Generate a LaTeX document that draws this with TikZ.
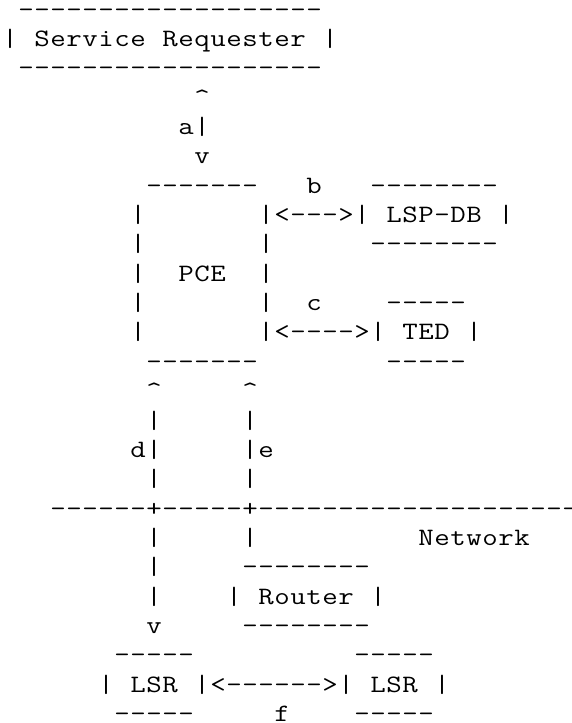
\documentclass[tikz,border=0pt]{standalone}
\usepackage{fontspec}
\usepackage{graphicx}
\newlength\cellw
\setlength\cellw{16pt}
\makeatletter
\def\cells#1{\cells@#1\cells@end}
\def\cells@end{\cells@end@}
\def\cells@{\futurelet\cells@next\cells@check}
\def\cells@check{%
  \ifx\cells@next\cells@end
    \let\cells@do\cells@stop
  \else
    \ifx\cells@next\@sptoken
      \let\cells@do\cells@space
    \else
      \let\cells@do\cells@char
    \fi
  \fi
  \cells@do}
\def\cells@stop\cells@end{}
\expandafter\def\expandafter\cells@space\space{\hbox to\cellw{}\cells@}
\def\cells@char#1{\hbox to\cellw{\hss\scalebox{1.2}[1]{#1}\hss}\cells@}
\makeatother
\tikzset{
  cell/.style={anchor=base west, inner sep=0pt, outer sep=0pt,
    font=\fontsize{25pt}{29.3pt}\selectfont\ttfamily, text=black}
}
\newcommand\placecells[4]{\node[cell] (#1) at ({2+16*#2},{17+29.36*#3}) {\cells{#4}};}
\begin{document}
\begin{tikzpicture}[x=1pt,y=-1pt]
\fill[white] (0,0) rectangle (572,723);
\useasboundingbox (0,0) rectangle (572,723);
\placecells{reqTop}{1}{0}{-------------------}
\placecells{req}{0}{1}{| Service Requester |}
\placecells{reqBot}{1}{2}{-------------------}
\placecells{aUp}{12}{3}{\textasciicircum}
\placecells{aLabel}{11}{4}{a|}
\placecells{aDown}{12}{5}{v}
\placecells{pceTop}{9}{6}{-------}
\placecells{bLabel}{19}{6}{b}
\placecells{lspTop}{23}{6}{--------}
\placecells{pceL1}{8}{7}{|}
\placecells{lsp}{16}{7}{|<--->| LSP-DB |}
\placecells{pceL2}{8}{8}{|}
\placecells{pceR2}{16}{8}{|}
\placecells{lspBot}{23}{8}{--------}
\placecells{pceL3}{8}{9}{|}
\placecells{pce}{11}{9}{PCE}
\placecells{pceR3}{16}{9}{|}
\placecells{pceL4}{8}{10}{|}
\placecells{pceR4}{16}{10}{|}
\placecells{cLabel}{19}{10}{c}
\placecells{tedTop}{24}{10}{-----}
\placecells{pceL5}{8}{11}{|}
\placecells{ted}{16}{11}{|<---->| TED |}
\placecells{pceBot}{9}{12}{-------}
\placecells{tedBot}{24}{12}{-----}
\placecells{dUp}{9}{13}{\textasciicircum}
\placecells{eUp}{15}{13}{\textasciicircum}
\placecells{dA}{9}{14}{|}
\placecells{eA}{15}{14}{|}
\placecells{dLabel}{8}{15}{d|}
\placecells{eLabel}{15}{15}{|e}
\placecells{dB}{9}{16}{|}
\placecells{eB}{15}{16}{|}
\placecells{net}{3}{17}{------+-----+--------------------}
\placecells{dC}{9}{18}{|}
\placecells{eC}{15}{18}{|}
\placecells{netLabel}{26}{18}{Network}
\placecells{dD}{9}{19}{|}
\placecells{rtTop}{15}{19}{--------}
\placecells{dE}{9}{20}{|}
\placecells{rt}{14}{20}{| Router |}
\placecells{dDown}{9}{21}{v}
\placecells{rtBot}{15}{21}{--------}
\placecells{lsrATop}{7}{22}{-----}
\placecells{lsrBTop}{22}{22}{-----}
\placecells{lsr}{6}{23}{| LSR |<------>| LSR |}
\placecells{lsrABot}{7}{24}{-----}
\placecells{fLabel}{17}{24}{f}
\placecells{lsrBBot}{22}{24}{-----}
\end{tikzpicture}
\end{document}
